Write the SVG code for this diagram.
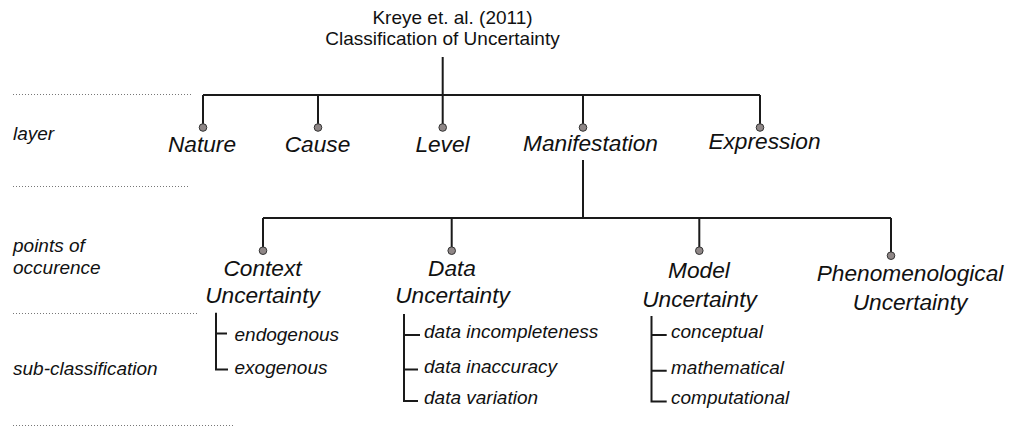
<svg xmlns="http://www.w3.org/2000/svg" width="1010" height="428" viewBox="0 0 1010 428">
<style>
text{font-family:"Liberation Sans",Arial,sans-serif;fill:#111}
.title{font-size:19px;text-anchor:middle}
.big{font-size:22.7px;font-style:italic;text-anchor:middle}
.side{font-size:19px;font-style:italic}
.sub{font-size:19px;font-style:italic}
.ln{stroke:#1a1a1a;stroke-width:2;fill:none}
.dot{stroke:#777;stroke-width:1;stroke-dasharray:1 2;fill:none}
.knob{fill:#8f8787;stroke:#333;stroke-width:1}
</style>
<rect width="1010" height="428" fill="#fff"/>
<g id="guides">
<line class="dot" x1="13" y1="94.5" x2="192" y2="94.5"/>
<line class="dot" x1="13" y1="186.5" x2="190" y2="186.5"/>
<line class="dot" x1="13" y1="313.5" x2="199" y2="313.5"/>
<line class="dot" x1="13" y1="425.5" x2="233" y2="425.5"/>
<text class="side" x="13" y="139.5">layer</text>
<text class="side" x="13" y="251.5">points of</text>
<text class="side" x="13" y="274">occurence</text>
<text class="side" x="13" y="375">sub-classification</text>
</g>
<g id="connectors">
<path class="ln" d="M442.7 57V124M203 95H760M203 95V124M318 95V124M583 95V124M760 95V124"/>
<path class="ln" d="M583 160V218M263 218H891M263 218V247M451.7 218V247M699.3 218V247M891 218V252"/>
<path class="ln" d="M216 312.7V369.5H228M216 333.5H227"/>
<path class="ln" d="M404 314V401H418M404 335H420M404 369.5H418"/>
<path class="ln" d="M651.5 316V401.5H666.7M651.5 335H666.7M651.5 370.7H666.7"/>
</g>
<g id="root">
<text class="title" x="452.5" y="24">Kreye et. al. (2011)</text>
<text class="title" x="442.5" y="45">Classification of Uncertainty</text>
</g>
<g id="nature"><circle class="knob" cx="203" cy="127.5" r="3.8"/><text class="big" x="202" y="152">Nature</text></g>
<g id="cause"><circle class="knob" cx="318" cy="127.5" r="3.8"/><text class="big" x="317.5" y="152">Cause</text></g>
<g id="level"><circle class="knob" cx="442.7" cy="127.5" r="3.8"/><text class="big" x="442.5" y="152">Level</text></g>
<g id="manifestation"><circle class="knob" cx="583" cy="127.5" r="3.8"/><text class="big" x="590.5" y="151">Manifestation</text></g>
<g id="expression"><circle class="knob" cx="760" cy="127.5" r="3.8"/><text class="big" x="764.5" y="148.5">Expression</text></g>
<g id="context"><circle class="knob" cx="263" cy="250.7" r="3.8"/><text class="big" x="262.5" y="276">Context</text><text class="big" x="262.5" y="303">Uncertainty</text></g>
<g id="data"><circle class="knob" cx="451.7" cy="250.7" r="3.8"/><text class="big" x="452" y="276">Data</text><text class="big" x="452.5" y="303">Uncertainty</text></g>
<g id="model"><circle class="knob" cx="699.3" cy="250.7" r="3.8"/><text class="big" x="699" y="278">Model</text><text class="big" x="699.5" y="307">Uncertainty</text></g>
<g id="phenomenological"><circle class="knob" cx="891" cy="255.7" r="3.8"/><text class="big" x="910" y="281">Phenomenological</text><text class="big" x="910" y="310">Uncertainty</text></g>
<g id="context-sub">
<text class="sub" x="234.5" y="341">endogenous</text>
<text class="sub" x="234.5" y="373.5">exogenous</text>
</g>
<g id="data-sub">
<text class="sub" x="424" y="338.3">data incompleteness</text>
<text class="sub" x="424" y="373.3">data inaccuracy</text>
<text class="sub" x="424" y="404">data variation</text>
</g>
<g id="model-sub">
<text class="sub" x="671" y="337.5">conceptual</text>
<text class="sub" x="671" y="374">mathematical</text>
<text class="sub" x="671" y="404">computational</text>
</g>
</svg>
